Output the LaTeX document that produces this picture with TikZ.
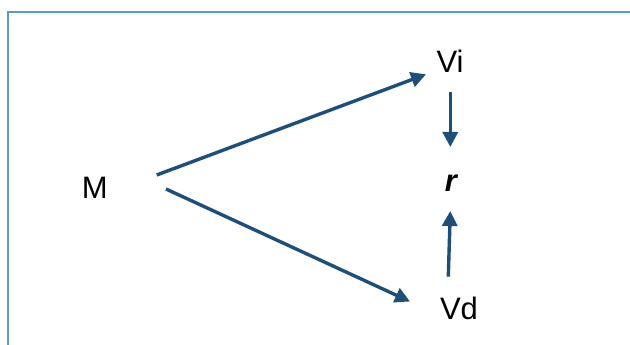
\documentclass[tikz,border=0pt]{standalone}
\usepackage{fontspec}
\setmainfont{Liberation Sans}
\usetikzlibrary{arrows.meta}
\definecolor{arrowblue}{RGB}{31,78,121}
\definecolor{frameblue}{RGB}{91,155,213}
\begin{document}
\begin{tikzpicture}[x=1pt,y=-1pt,
  lbl/.style={inner sep=0pt,font=\fontsize{31}{31}\selectfont},
  conn/.style={draw=arrowblue,line width=3.4pt,-{Triangle[length=15pt,width=15pt]}}]
\useasboundingbox (0,0) rectangle (630,345);
\clip (0,0) rectangle (630,345);
\draw[frameblue,line width=1.8pt] (7.8,11.8) rectangle (660,375);
\node[lbl] (M) at (94.7,188) {M};
\node[lbl] (Vi) at (450,61.5) {Vi};
\node[lbl] (r) at (451.5,183) {\textbf{\textit{r}}};
\node[lbl] (Vd) at (459,308) {Vd};
\coordinate (mA) at (156.7,175);
\coordinate (viA) at (426,74.3);
\coordinate (mB) at (166,189);
\coordinate (vdB) at (410,301.5);
\coordinate (viC) at (450.3,91.7);
\coordinate (rC) at (450.3,147);
\coordinate (vdD) at (448.3,276.7);
\coordinate (rD) at (450.3,211);
\draw[conn] (mA) -- (viA);
\draw[conn] (mB) -- (vdB);
\draw[conn] (viC) -- (rC);
\draw[conn] (vdD) -- (rD);
\end{tikzpicture}
\end{document}
